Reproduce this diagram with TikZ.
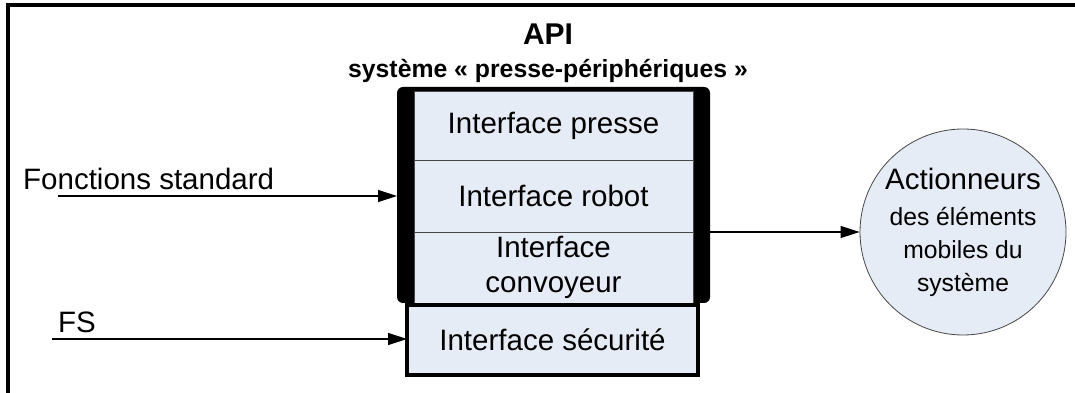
\documentclass[tikz,border=0pt]{standalone}
\usepackage{fontspec}
\setmainfont{Liberation Sans}
\usetikzlibrary{arrows.meta,positioning,shapes.geometric}
\definecolor{bleuclair}{RGB}{230,236,246}
\definecolor{trait}{RGB}{70,70,70}
\newcommand{\petit}{\fontsize{24.7}{30}\selectfont}

\begin{document}
\begin{tikzpicture}[
			x=1pt, y=1pt,
			node distance=0pt,
			>={Triangle[length=19pt,width=12pt]},
			font=\fontsize{29.5}{33}\selectfont,
			couche/.style={
				rectangle,
				draw=trait,
				line width=0.8pt,
				fill=bleuclair,
				text centered,
				align=center,
				minimum width=279pt,
				inner sep=0pt,
				outer sep=0pt
			},
			fleche/.style={
				line width=1.2pt
			},
			etiquette/.style={
				anchor=base west,
				inner sep=0pt
			}
			]
			\useasboundingbox (0,0) rectangle (1075,393);
			
			% cadre
			\draw[line width=3.5pt] (8,0) |- (1075,388);
			
			% titre
			\node[font=\bfseries\fontsize{30}{33}\selectfont, anchor=base, inner sep=0pt] (titre) at (548,348) {API};
			\node[font=\bfseries\fontsize{24.8}{30}\selectfont, anchor=base, inner sep=0pt] (soustitre) at (548,315) {système « presse-périphériques »};
			
			% bloc API
			\node[fill=black, rounded corners=6pt, minimum width=313pt, minimum height=216pt, inner sep=0pt, outer sep=0pt] (automate) at (553.5,198) {};
			
			\node [couche, minimum height=69pt] (presse) at (553.5,267.5) {Interface presse};
			\node [couche, minimum height=72pt, below=of presse] (robot) {Interface robot};
			\node [couche, minimum height=71pt, below=of robot] (convoyeur) {Interface\\[2pt]convoyeur};
			\node [couche, draw=black, line width=4pt, minimum width=291pt, minimum height=70pt] (securite) at (552.5,53) {Interface sécurité};
			
			\node [circle, draw=trait, line width=0.8pt, fill=bleuclair, minimum size=206pt, inner sep=0pt, align=center] (actionneurs) at (963,161)
			{Actionneurs\\[3pt]\petit des éléments\\\petit mobiles du\\\petit système};
			
			% entrees et sortie
			\node [etiquette] (lstd) at (23,203) {Fonctions standard};
			\node [etiquette] (lfs) at (58,60) {FS};
			\coordinate (std) at (58,197);
			\coordinate (fs) at (52,54);
			
			\draw [fleche,->] (std) -- (std -| automate.west);
			\draw [fleche,->] (fs) -- (fs -| securite.west);
			\draw [fleche,->] (automate.east |- actionneurs) -- (actionneurs);
			
\end{tikzpicture}
\end{document}
